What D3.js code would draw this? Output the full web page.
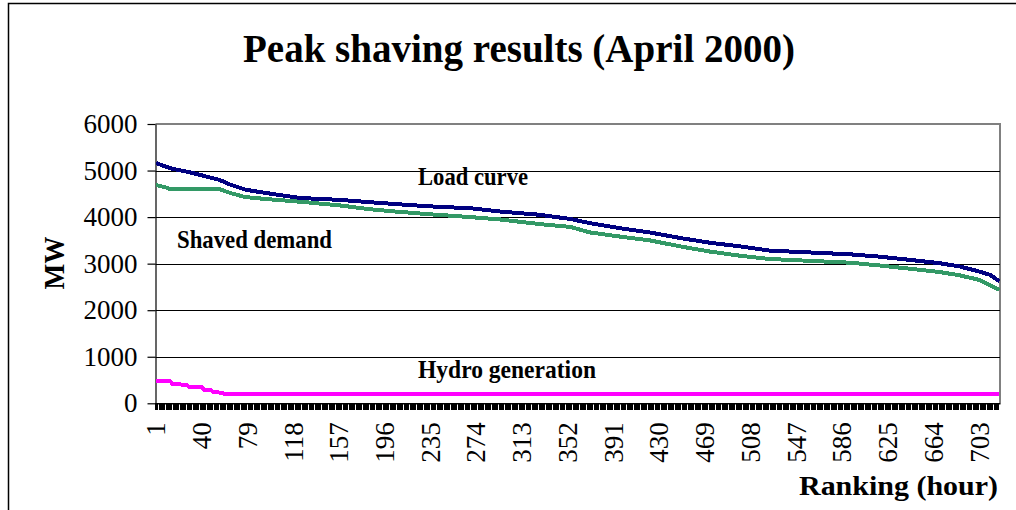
<!DOCTYPE html>
<html>
<head>
<meta charset="utf-8">
<script src="https://cdn.jsdelivr.net/npm/d3@7"></script>
<style>
  body { margin: 0; background: #fff; }
  svg { display: block; font-family: "Liberation Serif", "Times New Roman", serif; }
</style>
</head>
<body>
<svg width="1016" height="510"></svg>
<script>
// hours of April 2000, sorted by load (ranking)
var hours = d3.range(1, 721);
var tickHours = [1, 40, 79, 118, 157, 196, 235, 274, 313, 352, 391, 430, 469, 508, 547, 586, 625, 664, 703];
var yTicks = [0, 1000, 2000, 3000, 4000, 5000, 6000];

// values at these rankings
var loadRank = [1, 13, 30, 55, 64, 77, 94, 124, 158, 183, 205, 235, 269, 294, 328, 354, 371, 397, 422, 448, 473, 499, 524, 550, 593, 618, 644, 669, 686, 703, 712, 720];
var loadMW   = [5160, 5050, 4960, 4800, 4700, 4590, 4520, 4410, 4370, 4320, 4280, 4230, 4190, 4120, 4050, 3960, 3870, 3760, 3670, 3550, 3450, 3370, 3280, 3250, 3200, 3150, 3080, 3010, 2940, 2830, 2760, 2620];

var shavedRank = [1, 9, 13, 30, 55, 64, 77, 94, 124, 158, 183, 205, 235, 269, 294, 328, 354, 371, 397, 422, 448, 473, 499, 524, 550, 593, 618, 644, 669, 686, 703, 712, 720];
var shavedMW   = [4690, 4640, 4600, 4600, 4600, 4520, 4430, 4390, 4330, 4250, 4170, 4120, 4060, 4000, 3950, 3850, 3790, 3670, 3580, 3500, 3370, 3260, 3170, 3100, 3070, 3020, 2960, 2890, 2820, 2750, 2650, 2540, 2440];

var hydroRank = [1, 13, 15, 27, 29, 40, 42, 48, 50, 57, 59, 720];
var hydroMW   = [480, 480, 410, 400, 357, 345, 286, 280, 236, 230, 200, 200];

var svg = d3.select("svg"),
    plotLeft = 155.5, plotRight = 1000, plotTop = 124, plotBottom = 403.3;

// outer chart frame (runs off the picture on the right and bottom)
svg.append("rect")
  .attr("x", 8.5).attr("y", 3.5)
  .attr("width", 1100).attr("height", 600)
  .attr("fill", "none").attr("stroke", "#000").attr("stroke-width", 1.5);

var x = d3.scaleBand().domain(hours).range([plotLeft, plotRight]);
var y = d3.scaleLinear().domain([0, 6000]).range([plotBottom, plotTop]);

// plot frame: grey top and right edges
svg.append("path")
  .attr("d", "M" + plotLeft + "," + y(6000) + "H" + plotRight + "V" + plotBottom)
  .attr("fill", "none").attr("stroke", "#808080").attr("stroke-width", 2);

// gridlines
svg.append("g")
  .selectAll("line")
  .data(yTicks.filter(function(d) { return d > 0 && d < 6000; }))
  .enter().append("line")
  .attr("x1", plotLeft).attr("x2", plotRight)
  .attr("y1", function(d) { return Math.round(y(d)) + 0.5; })
  .attr("y2", function(d) { return Math.round(y(d)) + 0.5; })
  .attr("stroke", "#000").attr("stroke-width", 1);

// y axis
var yAxis = svg.append("g")
  .attr("transform", "translate(" + plotLeft + ",0)")
  .call(d3.axisLeft(y).tickValues(yTicks).tickFormat(d3.format("d"))
    .tickSize(8).tickSizeOuter(0).tickPadding(10));
yAxis.selectAll("text").attr("font-size", 27).attr("font-family", "Liberation Serif").attr("fill", "#000");
yAxis.selectAll("line, path").attr("stroke", "#000").attr("stroke-width", 1.2);

// x axis: tick marks between every hour
var bw = x.bandwidth();
var xTicks = svg.append("g")
  .attr("transform", "translate(" + (-bw / 2) + "," + plotBottom + ")")
  .call(d3.axisBottom(x).tickValues(hours).tickSize(7).tickSizeOuter(0).tickFormat(""));
xTicks.select(".domain").remove();
xTicks.selectAll("line").attr("stroke", "#000").attr("shape-rendering", "crispEdges");

// x axis labels
var xAxis = svg.append("g")
  .attr("transform", "translate(0," + plotBottom + ")")
  .call(d3.axisBottom(x).tickValues(tickHours).tickSize(0).tickSizeOuter(0));
xAxis.select(".domain").attr("stroke", "#000").attr("stroke-width", 1.5);
xAxis.selectAll("text")
  .attr("font-size", 27).attr("font-family", "Liberation Serif").attr("fill", "#000")
  .attr("transform", "rotate(-90)")
  .attr("text-anchor", "end")
  .attr("x", -19).attr("y", 0).attr("dy", "0.34em");

// curves
var series = [
  {rank: hydroRank, mw: hydroMW, color: "#ff00ff"},
  {rank: shavedRank, mw: shavedMW, color: "#339966"},
  {rank: loadRank, mw: loadMW, color: "#000080"}
];
var line = d3.line()
  .x(function(d) { return x(d[0]) + bw / 2; })
  .y(function(d) { return y(d[1]); });
svg.append("g")
  .selectAll("path")
  .data(series)
  .enter().append("path")
  .attr("d", function(s) { return line(d3.zip(s.rank, s.mw)); })
  .attr("fill", "none")
  .attr("stroke", function(s) { return s.color; })
  .attr("stroke-width", 4)
  .attr("stroke-linejoin", "round")
  .attr("shape-rendering", "crispEdges");

// texts
function label(txt, px, py, size, len, rot) {
  var t = svg.append("text")
    .attr("x", px).attr("y", py)
    .attr("font-size", size).attr("font-weight", "bold")
    .attr("textLength", len).attr("lengthAdjust", "spacingAndGlyphs")
    .text(txt);
  if (rot) t.attr("text-anchor", "middle").attr("transform", "rotate(-90," + px + "," + py + ")");
  return t;
}
label("Peak shaving results (April 2000)", 243, 62, 39, 552);
label("Load curve", 418, 185, 25, 110);
label("Shaved demand", 177, 248, 25, 155);
label("Hydro generation", 418, 378, 25, 178);
label("MW", 64, 263, 29, 53, true);
label("Ranking (hour)", 799, 495, 27, 199);
</script>
</body>
</html>
